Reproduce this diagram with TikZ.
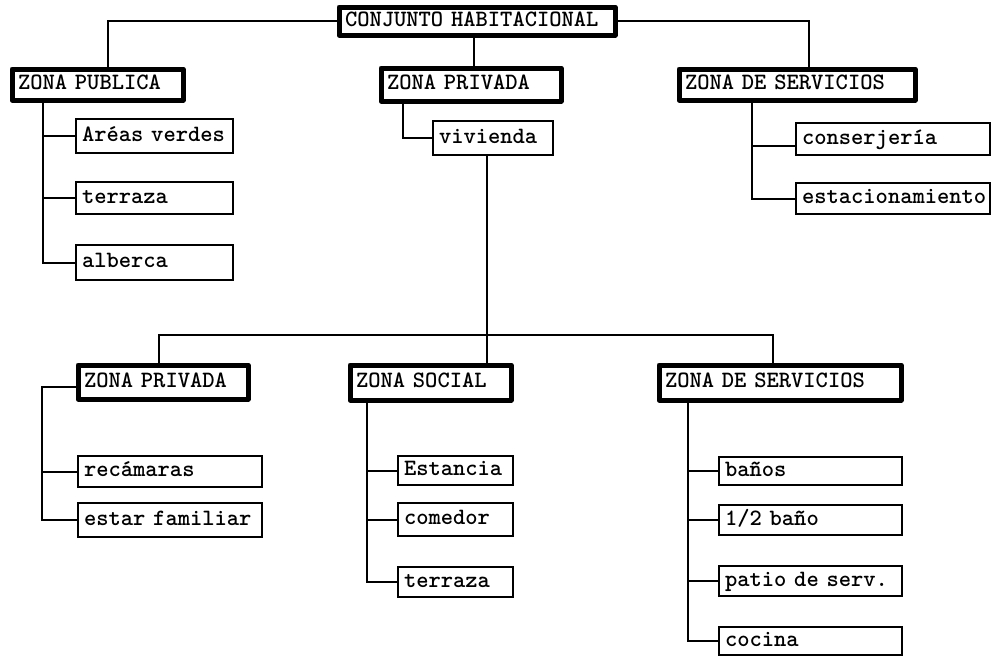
\documentclass[tikz,border=0pt]{standalone}
\begin{document}
\begin{tikzpicture}[x=1pt,y=-1pt,
  lbl/.style={font={\ttfamily\bfseries\fontsize{23.4}{26}\selectfont\spaceskip=0.525em\relax},
              align=left, inner xsep=6pt, inner ysep=0pt, text height=15pt, text depth=5pt},
  kbox/.style={lbl, draw, line width=5pt, line join=round},
  tbox/.style={lbl, draw, line width=2pt},
  link/.style={line width=2pt}]
\useasboundingbox (0,0) rectangle (991,664);

% --- upper level ---
\node[kbox, text width=264pt, minimum height=28pt] (top)   at (477,21)    {CONJUNTO HABITACIONAL};
\node[kbox, text width=159pt, minimum height=31pt] (pub)   at (97.5,84.5) {ZONA PUBLICA};
\node[kbox, text width=168pt, minimum height=33pt] (priv)  at (471,84.5)  {ZONA PRIVADA};
\node[kbox, text width=224pt, minimum height=31pt] (srv)   at (797,84.5)  {ZONA DE SERVICIOS};

\node[tbox, text width=145pt, minimum height=34pt] (areas) at (154.5,136) {\mbox{Aréas verdes}};
\node[tbox, text width=145pt, minimum height=32pt] (ter1)  at (154.5,198) {terraza};
\node[tbox, text width=145pt, minimum height=35pt] (alb)   at (154.5,262.5) {alberca};
\node[tbox, text width=108pt, minimum height=34pt] (viv)   at (493,138)   {vivienda};
\node[tbox, text width=182pt, minimum height=32pt] (conj)  at (893,139)   {conserjería};
\node[tbox, text width=182pt, minimum height=31pt] (est)   at (893,198.5) {estacionamiento};

% --- lower level ---
\node[kbox, text width=158pt, minimum height=34pt] (lpriv) at (163,382)   {ZONA PRIVADA};
\node[kbox, text width=149pt, minimum height=35pt] (soc)   at (430.5,382.5) {ZONA SOCIAL};
\node[kbox, text width=230pt, minimum height=35pt] (lserv) at (780,382.5) {ZONA DE SERVICIOS};

\node[tbox, text width=172pt, minimum height=31pt] (rec)   at (170,471.5) {recámaras};
\node[tbox, text width=172pt, minimum height=34pt] (estar) at (170,520)   {estar familiar};
\node[tbox, text width=103pt, minimum height=29pt] (estn)  at (455.5,470.5) {Estancia};
\node[tbox, text width=103pt, minimum height=33pt] (com)   at (455.5,519.5) {comedor};
\node[tbox, text width=103pt, minimum height=30pt] (ter2)  at (455.5,582) {terraza};
\node[tbox, text width=171pt, minimum height=28pt] (ban)   at (810.5,471) {baños};
\node[tbox, text width=171pt, minimum height=30pt] (mban)  at (810.5,520) {1/2 baño};
\node[tbox, text width=171pt, minimum height=30pt] (pat)   at (810.5,581) {patio de serv.};
\node[tbox, text width=171pt, minimum height=28pt] (coc)   at (810.5,641) {cocina};

% trunk positions
\coordinate (pubx)  at (43,0);
\coordinate (privx) at (403,0);
\coordinate (srvx)  at (752,0);
\coordinate (vivx)  at (487,0);
\coordinate (midy)  at (0,335);
\coordinate (lpx)   at (159,0);
\coordinate (lsx)   at (773,0);
\coordinate (lpx2)  at (42,0);
\coordinate (socx)  at (367,0);
\coordinate (lsvx)  at (688,0);
\coordinate (cj)    at ([yshift=-7pt]conj.west);
\coordinate (lpw)   at ([yshift=-5pt]lpriv.west);

% --- connectors, upper level ---
\draw[link] (top.west) -| ([xshift=10.5pt]pub.north);
\draw[link] (top.east) -| ([xshift=12pt]srv.north);
\draw[link] ([xshift=-3pt]top.south) -- ([xshift=-3pt]top.south |- priv.north);

\draw[link] (pub.south -| pubx) |- (alb.west);
\draw[link] (pubx |- areas.west) -- (areas.west);
\draw[link] (pubx |- ter1.west) -- (ter1.west);

\draw[link] (priv.south -| privx) |- (viv.west);

\draw[link] (srv.south -| srvx) |- (est.west);
\draw[link] (cj -| srvx) -- (cj);

% --- connectors, lower level ---
\draw[link] (viv.south -| vivx) -- (soc.north -| vivx);
\draw[link] (lpriv.north -| lpx) |- (midy -| lsx) -- (lserv.north -| lsx);

\draw[link] (lpw) -| (lpx2 |- estar.west) -- (estar.west);
\draw[link] (lpx2 |- rec.west) -- (rec.west);

\draw[link] (soc.south -| socx) |- (ter2.west);
\draw[link] (socx |- estn.west) -- (estn.west);
\draw[link] (socx |- com.west) -- (com.west);

\draw[link] (lserv.south -| lsvx) |- (coc.west);
\draw[link] (lsvx |- ban.west) -- (ban.west);
\draw[link] (lsvx |- mban.west) -- (mban.west);
\draw[link] (lsvx |- pat.west) -- (pat.west);
\end{tikzpicture}
\end{document}
